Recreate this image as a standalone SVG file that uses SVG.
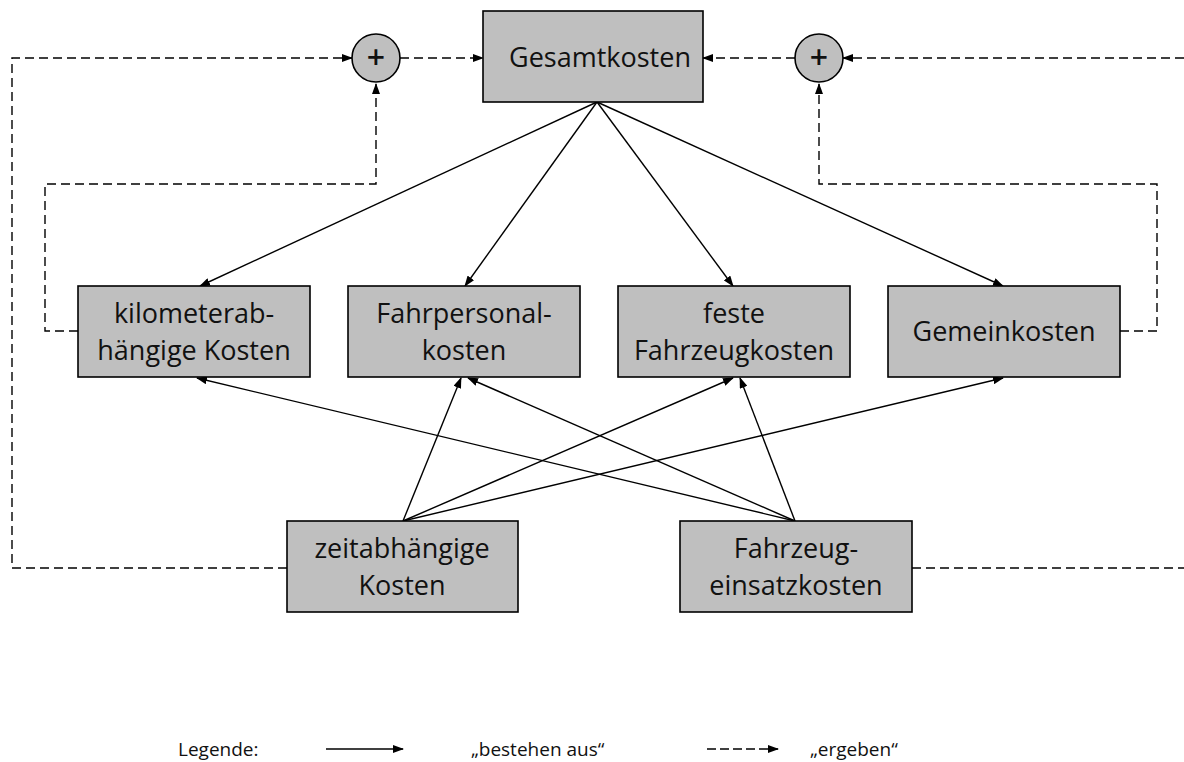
<svg xmlns="http://www.w3.org/2000/svg" width="1184" height="762" viewBox="0 0 1184 762">
<style>
.box{fill:#bfbfbf;stroke:#000;stroke-width:1.6}
.t{font-family:"Open Sans","Liberation Sans",sans-serif;font-size:27px;fill:#111;text-anchor:middle}
.lg{font-family:"Open Sans","Liberation Sans",sans-serif;font-size:19px;fill:#111}
.s{fill:none;stroke:#000;stroke-width:1.4;marker-end:url(#ah)}
.d{fill:none;stroke:#000;stroke-width:1.4;stroke-dasharray:9 5}
.da{marker-end:url(#ah)}
.plus{font-size:32px;font-weight:600}
</style>
<defs>
<marker id="ah" markerWidth="11" markerHeight="8" refX="10" refY="4" orient="auto" markerUnits="userSpaceOnUse">
<path d="M0,0 L11,4 L0,8 z" fill="#000"/>
</marker>
</defs>
<rect width="1184" height="762" fill="#fff"/>
<g id="connectors">
<line class="s" x1="597" y1="102" x2="200" y2="286"/>
<line class="s" x1="597" y1="102" x2="465" y2="286"/>
<line class="s" x1="597" y1="102" x2="733" y2="286"/>
<line class="s" x1="597" y1="102" x2="1003" y2="286"/>
<line class="s" x1="403" y1="521" x2="461" y2="378"/>
<line class="s" x1="403" y1="521" x2="733" y2="378"/>
<line class="s" x1="403" y1="521" x2="1003" y2="378"/>
<line class="s" x1="795" y1="521" x2="197" y2="378"/>
<line class="s" x1="795" y1="521" x2="468" y2="378"/>
<line class="s" x1="795" y1="521" x2="740" y2="378"/>
<path class="d da" d="M287,568 H12 V58 H352"/>
<path class="d da" d="M912,568 H1192 V58 H843"/>
<path class="d da" d="M78,331 H45 V184 H376 V84"/>
<path class="d da" d="M1120,331 H1157 V184 H819 V84"/>
<path class="d da" d="M400,58 H483"/>
<path class="d da" d="M795,58 H703"/>
</g>
<g id="sum-left"><circle cx="376" cy="58" r="24" class="box"/><text class="t plus" x="376" y="69">+</text></g>
<g id="sum-right"><circle cx="819" cy="58" r="24" class="box"/><text class="t plus" x="819" y="69">+</text></g>
<g id="gesamtkosten"><rect class="box" x="483" y="11" width="220" height="91"/><text class="t" x="600" y="67">Gesamtkosten</text></g>
<g id="km"><rect class="box" x="78" y="286" width="232" height="91"/><text class="t" x="194" y="323">kilometerab-</text><text class="t" x="194" y="360">hängige Kosten</text></g>
<g id="fahrpersonal"><rect class="box" x="348" y="286" width="232" height="91"/><text class="t" x="464" y="323">Fahrpersonal-</text><text class="t" x="464" y="360">kosten</text></g>
<g id="feste"><rect class="box" x="618" y="286" width="232" height="91"/><text class="t" x="734" y="323">feste</text><text class="t" x="734" y="360">Fahrzeugkosten</text></g>
<g id="gemein"><rect class="box" x="888" y="286" width="232" height="91"/><text class="t" x="1004" y="341">Gemeinkosten</text></g>
<g id="zeit"><rect class="box" x="287" y="521" width="231" height="91"/><text class="t" x="402" y="558">zeitabhängige</text><text class="t" x="402" y="595">Kosten</text></g>
<g id="einsatz"><rect class="box" x="680" y="521" width="232" height="91"/><text class="t" x="796" y="558">Fahrzeug-</text><text class="t" x="796" y="595">einsatzkosten</text></g>
<g id="legend">
<text class="lg" x="178" y="756">Legende:</text>
<line class="s" x1="326" y1="749" x2="403" y2="749"/>
<text class="lg" x="471" y="756">„bestehen aus“</text>
<path class="d da" d="M707,749 H778" style="stroke-dasharray:9 4"/>
<text class="lg" x="810" y="756">„ergeben“</text>
</g>
</svg>
